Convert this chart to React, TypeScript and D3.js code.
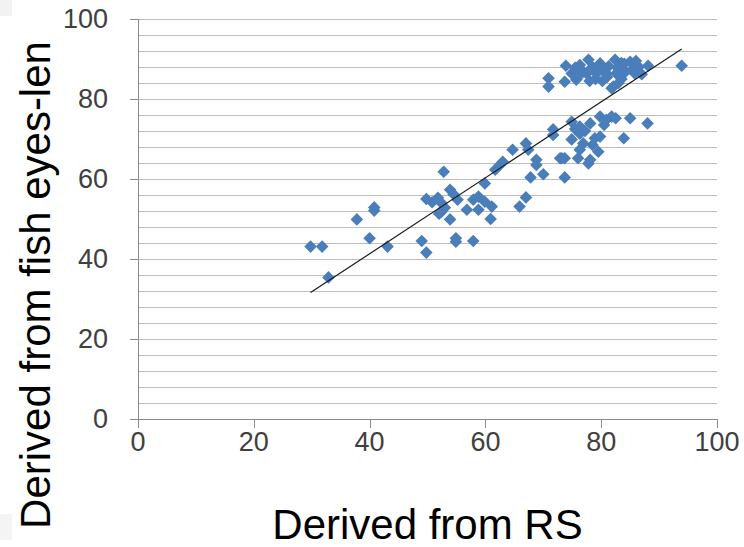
import React from 'react';
import * as d3 from 'd3';

// Derived from RS (x) and Derived from fish eyes-len (y)
const rsValues = [
  29.8, 31.8, 32.9, 37.8, 40.8, 40.8, 40.0, 43.1, 49.0, 49.8,
  54.9, 54.9, 53.9, 52.0, 49.8, 50.8, 51.8, 52.4, 53.0, 53.9,
  54.5, 55.2, 52.8, 52.4, 56.8, 57.9, 58.8, 58.8, 59.9, 61.1,
  60.9, 57.9, 59.9, 61.7, 62.5, 63.0, 64.7, 67.0, 67.4, 68.8,
  68.8, 67.8, 70.0, 67.0, 65.9, 72.9, 73.7,
  71.7, 71.7, 74.9, 74.9, 76.3, 76.3, 76.9, 76.3, 78.1, 78.1,
  77.8, 76.0, 79.8, 79.8, 79.5, 78.9, 80.9, 81.8, 85.0, 88.0,
  83.9, 73.2, 73.7, 75.5, 77.2, 80.5, 78.5, 82.5,
  70.9, 70.9, 73.9, 73.7, 76.3, 77.8, 79.8, 82.4, 85.0, 88.1,
  93.9, 85.8, 82.1, 74.9, 75.7, 77.5, 79.2, 80.9, 82.6, 75.5,
  76.8, 78.5, 79.0, 80.2, 81.3, 81.0, 82.8, 83.5, 84.0, 84.2,
  83.0, 81.8, 86.5, 87.0, 85.5, 78.0, 76.0, 80.0, 83.5, 86.0,
];
const fishValues = [
  43.1, 43.1, 35.4, 49.9, 52.9, 52.1, 45.2, 43.1, 44.5, 41.6,
  45.2, 44.3, 49.9, 51.3, 55.0, 54.2, 55.3, 54.0, 52.8, 57.3,
  56.2, 54.8, 61.8, 51.8, 52.3, 54.8, 55.6, 52.3, 54.3, 53.1,
  50.0, 44.5, 58.9, 62.3, 63.5, 64.3, 67.3, 68.9, 67.3, 64.8,
  63.5, 60.4, 61.2, 55.4, 53.1, 65.2, 60.4,
  72.4, 71.0, 74.3, 69.9, 73.1, 71.3, 68.9, 67.3, 73.9, 64.8,
  63.9, 65.2, 75.6, 70.6, 66.8, 70.2, 74.8, 75.6, 75.2, 73.9,
  70.2, 65.2, 65.2, 72.5, 72.0, 73.5, 68.5, 75.2,
  85.2, 83.1, 88.3, 84.3, 88.5, 89.8, 88.9, 89.8, 89.3, 88.3,
  88.3, 86.4, 83.1, 86.4, 84.8, 86.4, 86.4, 86.4, 86.4, 87.8,
  87.0, 88.0, 85.0, 84.5, 88.2, 85.5, 87.8, 85.0, 88.8, 86.8,
  84.0, 82.7, 88.0, 86.2, 87.5, 84.5, 85.5, 87.5, 89.0, 89.5,
];

const xTicks = [0, 20, 40, 60, 80, 100];
const yTicks = [0, 20, 40, 60, 80, 100];
const gridStep = 4;

// Linear trendline (Excel style)
const trendSlope = 0.95;
const trendIntercept = 3.3;

const xTitle = 'Derived from RS';
const yTitle = 'Derived from fish eyes-len';

export default function App() {
  const W = 744;
  const H = 547;
  const left = 138, right = 717, top = 19, bottom = 419;
  const x = d3.scaleLinear().domain([0, 100]).range([left, right]);
  const y = d3.scaleLinear().domain([0, 100]).range([bottom, top]);
  const grid = d3.range(0, 100 + 0.001, gridStep);
  const pts = rsValues.map((v, i) => [v, fishValues[i]] as [number, number]);
  const xMin = d3.min(rsValues) as number;
  const xMax = d3.max(rsValues) as number;
  const line = d3.line<[number, number]>().x(d => x(d[0])).y(d => y(d[1]));
  const trend: [number, number][] = [
    [xMin, trendSlope * xMin + trendIntercept],
    [xMax, trendSlope * xMax + trendIntercept],
  ];
  const s = 6.3;
  const diamond = `M0,${-s}L${s},0L0,${s}L${-s},0Z`;
  const font = "'Liberation Sans', Arial, sans-serif";

  return (
    <div style={{ position: 'fixed', left: 0, top: 0, width: W, height: H, background: '#fff' }}>
      <svg width={W} height={H} style={{ display: 'block' }}>
        <rect x={0} y={0} width={W} height={H} fill="#fff" />
        <rect x={0} y={0} width={12} height={16} fill="#f2f2f2" />
        <rect x={0} y={514} width={12} height={26} fill="#f4f4f4" />
        {grid.map(g => (
          <line key={g} x1={left} x2={right} y1={Math.round(y(g)) + 0.5} y2={Math.round(y(g)) + 0.5}
            stroke="#bdbdbd" strokeWidth={1} />
        ))}
        {/* y axis */}
        <line x1={left + 0.5} x2={left + 0.5} y1={top} y2={bottom} stroke="#8a8a8a" strokeWidth={1} />
        {yTicks.map(t => (
          <line key={'yt' + t} x1={left - 8} x2={left} y1={Math.round(y(t)) + 0.5} y2={Math.round(y(t)) + 0.5}
            stroke="#8a8a8a" strokeWidth={1} />
        ))}
        {/* x axis */}
        <line x1={left - 8} x2={right} y1={bottom + 0.5} y2={bottom + 0.5} stroke="#8a8a8a" strokeWidth={1} />
        {xTicks.map(t => (
          <line key={'xt' + t} x1={Math.round(x(t)) + 0.5} x2={Math.round(x(t)) + 0.5} y1={bottom} y2={bottom + 9}
            stroke="#8a8a8a" strokeWidth={1} />
        ))}
        {yTicks.map(t => (
          <text key={'yl' + t} x={108} y={y(t)} dy="0.35em" textAnchor="end"
            fontFamily={font} fontSize={27} fill="#404040">{t}</text>
        ))}
        {xTicks.map(t => (
          <text key={'xl' + t} x={x(t)} y={451} textAnchor="middle"
            fontFamily={font} fontSize={27} fill="#404040">{t}</text>
        ))}
        {pts.map((p, i) => (
          <path key={'p' + i} d={diamond} transform={`translate(${x(p[0])},${y(p[1])})`} fill="#4A7EBB" />
        ))}
        <path d={line(trend) || ''} fill="none" stroke="#1a1a1a" strokeWidth={1.2} />
        <text x={(left + right) / 2} y={539} textAnchor="middle" fontFamily={font} fontSize={42} fill="#000">{xTitle}</text>
        <text transform={`translate(50,${285}) rotate(-90)`} textAnchor="middle" fontFamily={font} fontSize={42} fill="#000">{yTitle}</text>
      </svg>
    </div>
  );
}
